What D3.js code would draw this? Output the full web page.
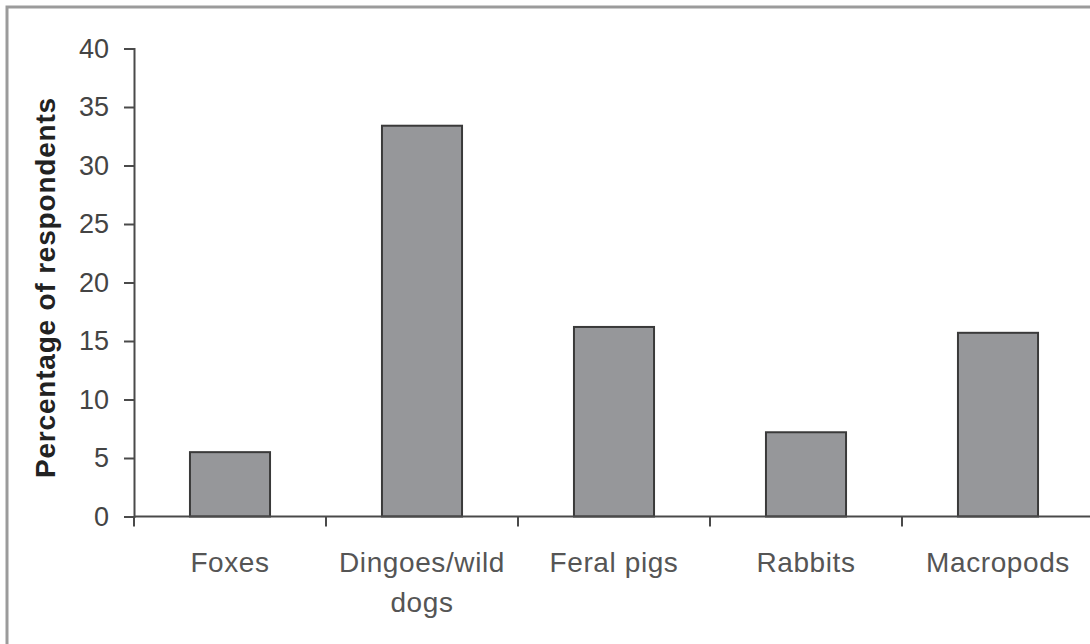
<!DOCTYPE html>
<html>
<head>
<meta charset="utf-8">
<script src="https://cdn.jsdelivr.net/npm/d3@7/dist/d3.min.js"></script>
<style>
  html, body { margin: 0; padding: 0; background: #fff; }
  svg { display: block; }
</style>
</head>
<body>
<svg id="chart" width="1090" height="644"></svg>
<script>
// Pest animals reported by respondents
const categories = ["Foxes", "Dingoes/wild dogs", "Feral pigs", "Rabbits", "Macropods"];
const categoryLines = [["Foxes"], ["Dingoes/wild", "dogs"], ["Feral pigs"], ["Rabbits"], ["Macropods"]];
const percentages = [5.5, 33.4, 16.2, 7.2, 15.7];
const yTicks = [0, 5, 10, 15, 20, 25, 30, 35, 40];
const yTitle = "Percentage of respondents";

const W = 1090, H = 644;
const margin = { left: 134, top: 48.5, bottom: 516.5, right: 1094 };

const svg = d3.select("#chart");

// outer frame (runs off the right and bottom edges)
svg.append("rect")
  .attr("x", 7).attr("y", 7)
  .attr("width", W + 20).attr("height", H + 20)
  .attr("fill", "#fff")
  .attr("stroke", "#9b9b9b")
  .attr("stroke-width", 3);

const y = d3.scaleLinear().domain([0, 40]).range([margin.bottom, margin.top]);

// category slots (for tick marks) and bars inside them
const slots = d3.scaleBand().domain(categories).range([margin.left, margin.right]);
const x = d3.scaleBand().domain(categories).range([margin.left, margin.right])
  .paddingInner(0.583).paddingOuter(0.2915);

const axisColor = "#4a4a4a";
const textColor = "#444";

// y axis
const yAxis = svg.append("g")
  .attr("transform", `translate(${margin.left},0)`)
  .call(d3.axisLeft(y).tickValues(yTicks).tickSize(10).tickPadding(15).tickFormat(d3.format("d")));
yAxis.select(".domain").attr("stroke", axisColor).attr("stroke-width", 2);
yAxis.selectAll(".tick line").attr("stroke", axisColor).attr("stroke-width", 2);
yAxis.selectAll(".tick text")
  .attr("fill", textColor)
  .style("font-family", "'Liberation Sans', Arial, sans-serif")
  .style("font-size", "27px");

// bars
svg.append("g").selectAll("rect")
  .data(percentages)
  .join("rect")
  .attr("x", (d, i) => x(categories[i]))
  .attr("y", d => y(d))
  .attr("width", x.bandwidth())
  .attr("height", d => y(0) - y(d))
  .attr("fill", "#96979a")
  .attr("stroke", "#3a3a3a")
  .attr("stroke-width", 2);

// x axis line and slot boundary ticks
const xAxisG = svg.append("g");
xAxisG.append("line")
  .attr("x1", margin.left).attr("x2", W)
  .attr("y1", y(0)).attr("y2", y(0))
  .attr("stroke", axisColor).attr("stroke-width", 2);
const boundaries = categories.map(c => slots(c)).concat([slots.range()[1]]);
xAxisG.selectAll("line.tick")
  .data(boundaries)
  .join("line")
  .attr("class", "tick")
  .attr("x1", d => d).attr("x2", d => d)
  .attr("y1", y(0)).attr("y2", y(0) + 10)
  .attr("stroke", axisColor).attr("stroke-width", 2);

// category labels
const labels = svg.append("g")
  .style("font-family", "'Liberation Sans', Arial, sans-serif")
  .style("font-size", "28px")
  .style("letter-spacing", "0.6px")
  .attr("fill", "#555");
labels.selectAll("text")
  .data(categoryLines)
  .join("text")
  .attr("text-anchor", "middle")
  .attr("transform", (d, i) => `translate(${slots(categories[i]) + slots.bandwidth() / 2},${y(0) + 55})`)
  .selectAll("tspan")
  .data(d => d)
  .join("tspan")
  .attr("x", 0)
  .attr("y", (d, j) => j * 40)
  .text(d => d);

// y axis title
svg.append("text")
  .attr("transform", `translate(55,${(y(0) + y(40)) / 2 + 5}) rotate(-90)`)
  .attr("text-anchor", "middle")
  .attr("fill", "#222")
  .style("font-family", "'Liberation Sans', Arial, sans-serif")
  .style("font-size", "28px")
  .style("font-weight", "bold")
  .style("letter-spacing", "0.8px")
  .text(yTitle);
</script>
</body>
</html>
